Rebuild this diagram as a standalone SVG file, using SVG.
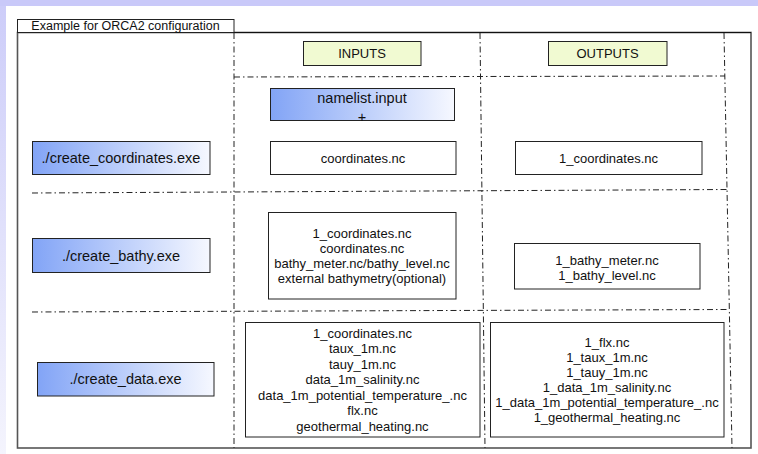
<svg xmlns="http://www.w3.org/2000/svg" width="758" height="454" viewBox="0 0 758 454">
  <defs>
    <linearGradient id="exeFill" x1="0" y1="0" x2="1" y2="0">
      <stop offset="0" stop-color="#82a4f6"/>
      <stop offset="1" stop-color="#f6f8ff"/>
    </linearGradient>
    <linearGradient id="sideBand" x1="0" y1="0" x2="0" y2="1">
      <stop offset="0" stop-color="#cdcdf9"/>
      <stop offset="1" stop-color="#f4f4fd"/>
    </linearGradient>
  </defs>
  <style>
    text { font-family: "Liberation Sans", Arial, Helvetica, sans-serif; fill: #111; text-anchor: middle; }
    .exe { font-size: 14.5px; }
    .small { font-size: 13px; }
    .title { font-size: 12.5px; }
    .box { fill: #fff; stroke: #222; stroke-width: 1; }
    .exebox { fill: url(#exeFill); stroke: #222; stroke-width: 1; }
    .head { fill: #f1fad2; stroke: #222; stroke-width: 1; }
    .grid line { stroke: #222; stroke-width: 1; stroke-dasharray: 6 3 1.5 3; fill: none; }
  </style>

  <!-- page background -->
  <rect x="0" y="0" width="758" height="454" fill="#fff"/>
  <rect x="0" y="0" width="758" height="6" fill="#c9c9f9"/>
  <rect x="0" y="6" width="6" height="448" fill="url(#sideBand)"/>

  <!-- outer frame and title tab -->
  <g id="frame">
    <rect x="17.5" y="32.5" width="733.5" height="415.5" fill="none" stroke="#555" stroke-width="1.6"/>
    <line x1="17.5" y1="32.5" x2="751" y2="32.5" stroke="#111" stroke-width="1"/>
    <rect x="17.5" y="19.5" width="216.5" height="13" fill="#fff" stroke="#222" stroke-width="1"/>
    <text class="title" x="125.5" y="30">Example for ORCA2 configuration</text>
  </g>

  <!-- dash-dot table grid -->
  <g id="connectors" class="grid">
    <line x1="234" y1="33" x2="234" y2="448"/>
    <line x1="480" y1="33" x2="485" y2="448"/>
    <line x1="724" y1="33" x2="732" y2="448"/>
    <line x1="234" y1="77" x2="725" y2="76"/>
    <line x1="32" y1="193" x2="727" y2="189.5"/>
    <line x1="32" y1="312" x2="729" y2="309.5"/>
  </g>

  <g id="inputs-head">
    <rect class="head" x="303.5" y="41.5" width="117.5" height="24"/>
    <text class="small" x="362" y="58">INPUTS</text>
  </g>
  <g id="outputs-head">
    <rect class="head" x="548.5" y="41.5" width="118.5" height="24"/>
    <text class="small" x="607.5" y="58">OUTPUTS</text>
  </g>

  <g id="namelist">
    <rect class="exebox" x="270.5" y="88.5" width="184" height="32"/>
    <text class="exe" x="362" y="103">namelist.input</text>
    <text class="exe" x="362" y="122">+</text>
  </g>

  <g id="create-coordinates">
    <rect class="exebox" x="32.5" y="141.5" width="177.5" height="33"/>
    <text class="exe" x="121" y="163">./create_coordinates.exe</text>
  </g>
  <g id="coord-in">
    <rect class="box" x="270.5" y="141.5" width="185.5" height="33"/>
    <text class="small" x="363" y="162.5">coordinates.nc</text>
  </g>
  <g id="coord-out">
    <rect class="box" x="515.5" y="141.5" width="186.5" height="33"/>
    <text class="small" x="608.5" y="162.5">1_coordinates.nc</text>
  </g>

  <g id="create-bathy">
    <rect class="exebox" x="32.5" y="238.5" width="177.5" height="34"/>
    <text class="exe" x="121" y="260.5">./create_bathy.exe</text>
  </g>
  <g id="bathy-in">
    <rect class="box" x="268.5" y="212.5" width="187.5" height="86.5"/>
    <text class="small" x="362" y="237.5">1_coordinates.nc</text>
    <text class="small" x="362" y="252.5">coordinates.nc</text>
    <text class="small" x="362" y="267.5">bathy_meter.nc/bathy_level.nc</text>
    <text class="small" x="362" y="282.5">external bathymetry(optional)</text>
  </g>
  <g id="bathy-out">
    <rect class="box" x="514.5" y="243.5" width="185.5" height="45.5"/>
    <text class="small" x="607" y="264.5">1_bathy_meter.nc</text>
    <text class="small" x="607" y="279.5">1_bathy_level.nc</text>
  </g>

  <g id="create-data">
    <rect class="exebox" x="37.5" y="362.5" width="176.5" height="33.5"/>
    <text class="exe" x="125.5" y="384">./create_data.exe</text>
  </g>
  <g id="data-in">
    <rect class="box" x="245.5" y="322.5" width="234.5" height="114.5"/>
    <text class="small" x="362.5" y="337.5">1_coordinates.nc</text>
    <text class="small" x="362.5" y="353">taux_1m.nc</text>
    <text class="small" x="362.5" y="368.5">tauy_1m.nc</text>
    <text class="small" x="362.5" y="384">data_1m_salinity.nc</text>
    <text class="small" x="362.5" y="399.5">data_1m_potential_temperature_.nc</text>
    <text class="small" x="362.5" y="415">flx.nc</text>
    <text class="small" x="362.5" y="430.5">geothermal_heating.nc</text>
  </g>
  <g id="data-out">
    <rect class="box" x="490.5" y="322.5" width="233.5" height="114.5"/>
    <text class="small" x="607" y="346.5">1_flx.nc</text>
    <text class="small" x="607" y="361.5">1_taux_1m.nc</text>
    <text class="small" x="607" y="376.5">1_tauy_1m.nc</text>
    <text class="small" x="607" y="391.5">1_data_1m_salinity.nc</text>
    <text class="small" x="607" y="406.5">1_data_1m_potential_temperature_.nc</text>
    <text class="small" x="607" y="421.5">1_geothermal_heating.nc</text>
  </g>
</svg>
